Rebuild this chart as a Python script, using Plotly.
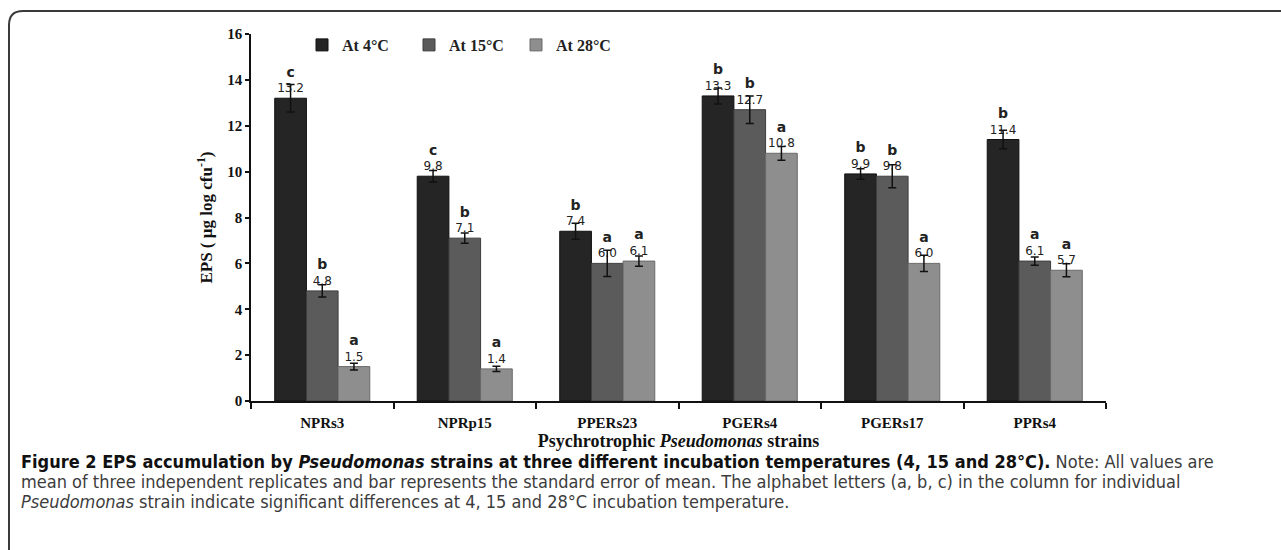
import plotly.graph_objects as go

# ---------------- data ----------------
strains = ["NPRs3", "NPRp15", "PPERs23", "PGERs4", "PGERs17", "PPRs4"]
series_names = ["At 4°C", "At 15°C", "At 28°C"]

eps_4 = [13.2, 9.8, 7.4, 13.3, 9.9, 11.4]
eps_15 = [4.8, 7.1, 6.0, 12.7, 9.8, 6.1]
eps_28 = [1.5, 1.4, 6.1, 10.8, 6.0, 5.7]

se_4 = [0.60, 0.25, 0.35, 0.35, 0.23, 0.40]
se_15 = [0.27, 0.22, 0.57, 0.60, 0.50, 0.18]
se_28 = [0.15, 0.11, 0.22, 0.30, 0.35, 0.28]

letters_4 = ["c", "c", "b", "b", "b", "b"]
letters_15 = ["b", "b", "a", "b", "b", "a"]
letters_28 = ["a", "a", "a", "a", "a", "a"]

y_ticks = [0, 2, 4, 6, 8, 10, 12, 14, 16]

caption_lines = [
    "<b>Figure 2 EPS accumulation by <i>Pseudomonas</i> strains at three different incubation temperatures (4, 15 and 28°C).</b>"
    "<span style='color:#3c3c3c'> Note: All values are</span>",
    "<span style='color:#3c3c3c'>mean of three independent replicates and bar represents the standard error of mean. The alphabet letters (a, b, c) in the column for individual</span>",
    "<span style='color:#3c3c3c'><i>Pseudomonas</i> strain indicate significant differences at 4, 15 and 28°C incubation temperature.</span>",
]

# ---------------- styles ----------------
fills = ["#252525", "#5b5b5b", "#8e8e8e"]
edges = ["#101010", "#3e3e3e", "#6a6a6a"]
serif = "Liberation Serif, Times New Roman, serif"
cap_font = "DejaVu Sans Condensed, Liberation Sans Narrow, DejaVu Sans, sans-serif"

fig = go.Figure()
for name, vals, errs, lets, fc, ec in zip(
    series_names,
    [eps_4, eps_15, eps_28],
    [se_4, se_15, se_28],
    [letters_4, letters_15, letters_28],
    fills, edges,
):
    labels = [
        f"<span style='font-size:14px;font-weight:bold'>{l}</span><br>{v:.1f}"
        for l, v in zip(lets, vals)
    ]
    fig.add_trace(go.Bar(
        name=name, x=strains, y=vals,
        marker=dict(color=fc, line=dict(color=ec, width=1)),
        error_y=dict(type="data", array=errs, visible=True,
                     color="#111111", thickness=1.5, width=4),
        text=labels, textposition="outside", cliponaxis=False,
        constraintext="none",
        textfont=dict(family="DejaVu Sans, sans-serif", size=12, color="#222222"),
    ))

L, R, T, B = 251, 175, 34, 149
W, H = 1281, 550
pw, ph = W - L - R, H - T - B

def px_x(x):
    return (x - L) / pw

def px_y(y):
    return (H - B - y) / ph

annotations = []
for line, ypx in zip(caption_lines, [461, 481, 501]):
    annotations.append(dict(
        text=line, xref="paper", yref="paper", x=px_x(19), y=px_y(ypx),
        xanchor="left", yanchor="middle", showarrow=False, align="left",
        font=dict(family=cap_font, size=18, color="#111111"),
    ))

# rounded frame (left and top edges visible)
x0, x1 = px_x(9), px_x(1300)
yt, yb = px_y(11), px_y(570)
rx, ry = 14 / pw, 14 / ph
frame = (f"M {x0},{yb} L {x0},{yt - ry} Q {x0},{yt} {x0 + rx},{yt} L {x1},{yt}")

fig.update_layout(
    width=W, height=H,
    margin=dict(l=L, r=R, t=T, b=B, autoexpand=False),
    paper_bgcolor="white", plot_bgcolor="white",
    barmode="group", bargap=0.333, bargroupgap=0,
    showlegend=True,
    legend=dict(
        orientation="h", x=px_x(302), xanchor="left", y=px_y(45), yanchor="middle",
        font=dict(family=serif, size=16, color="#222222", weight="bold"),
        entrywidth=62, entrywidthmode="pixels", itemwidth=30,
        bgcolor="rgba(0,0,0,0)", traceorder="normal",
    ),
    xaxis=dict(
        type="category", showline=True, linecolor="#111111", linewidth=1.5,
        ticks="outside", ticklen=6, tickwidth=1.5, tickcolor="#111111",
        tickson="boundaries", ticklabelstandoff=7,
        tickfont=dict(family=serif, size=15, color="#111111", weight="bold"),
        showgrid=False, zeroline=False,
        title=dict(text="<b>Psychrotrophic <i>Pseudomonas</i> strains</b>",
                   font=dict(family=serif, size=18, color="#111111"), standoff=2),
    ),
    yaxis=dict(
        range=[0, 16], tickvals=y_ticks, showline=True, linecolor="#111111",
        linewidth=1.5, ticks="outside", ticklen=4, tickwidth=1.5, tickcolor="#111111",
        tickfont=dict(family=serif, size=15, color="#111111", weight="bold"),
        showgrid=False, zeroline=False,
        title=dict(text="<b>EPS ( µg log cfu<sup>-1</sup>)</b>",
                   font=dict(family=serif, size=17, color="#111111"), standoff=10),
    ),
    annotations=annotations,
    shapes=[dict(type="path", path=frame, xref="paper", yref="paper",
                 line=dict(color="#3a3a3a", width=2), layer="above")],
)

fig.write_html("out.html")
